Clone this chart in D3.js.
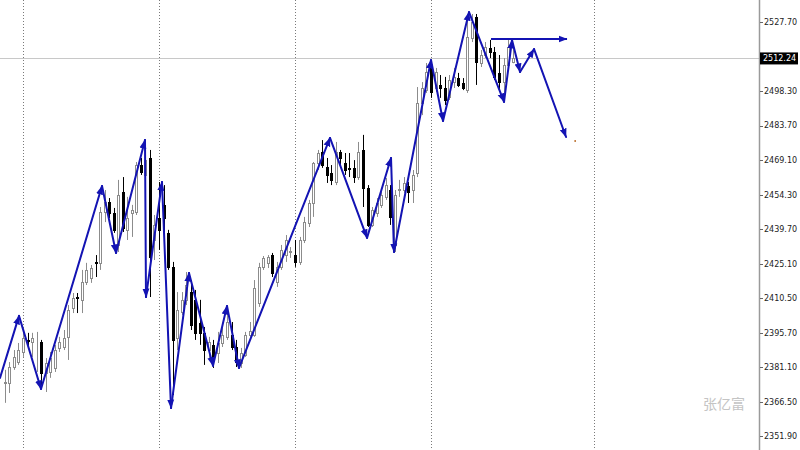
<!DOCTYPE html>
<html><head><meta charset="utf-8">
<script src="https://cdn.jsdelivr.net/npm/d3@7/dist/d3.min.js"></script>
<style>html,body{margin:0;padding:0;background:#fff;}svg{display:block;}</style>
</head><body>
<svg id="c" width="800" height="450"></svg>
<script>
// ---- data (prices) ----
const opens = [2374.5,2374.5,2381.3,2383.4,2387.7,2392.8,2391.9,2392.8,2391.9,2378.8,
2379.2,2380.9,2389.4,2389.8,2394.1,2406.4,2410.8,2409.8,2417.4,2419.1,
2425.9,2425.5,2447.1,2451.3,2446.7,2433.1,2455.6,2439.5,2446.7,2447.1,
2467.0,2462.8,2470.0,2435.2,2444.5,2450.1,2438.2,2423.8,2393.6,2404.7,
2409.8,2413.1,2409.8,2400.0,2395.8,2388.5,2390.7,2387.3,2391.5,2394.1,
2394.9,2389.8,2383.0,2386.4,2394.9,2394.9,2408.5,2423.8,2425.5,2428.8,
2417.4,2423.8,2428.8,2430.1,2428.8,2425.9,2435.2,2442.4,2450.9,2467.9,
2472.5,2466.2,2463.6,2459.8,2472.5,2467.9,2465.8,2465.8,2461.9,2473.4,
2457.3,2441.6,2446.7,2450.1,2453.5,2456.4,2433.1,2456.4,2456.4,2458.1,
2456.4,2463.6,2493.3,2498.8,2508.6,2499.7,2501.0,2499.7,2495.9,2502.2,
2503.9,2501.8,2498.8,2520.9,2529.8,2510.3,2513.7,2516.7,2515.0,2506.1,
2502.2,2509.5,2510.9];
const highs = [2380.1,2383.4,2388.5,2391.5,2397.0,2395.8,2395.8,2396.2,2392.8,2385.1,
2387.7,2390.7,2394.1,2397.0,2407.6,2412.7,2412.7,2422.5,2425.5,2424.6,
2428.8,2449.2,2456.4,2453.0,2448.8,2460.7,2461.9,2453.5,2450.1,2468.3,
2470.0,2475.5,2473.4,2445.8,2459.8,2458.5,2439.5,2425.9,2413.1,2413.1,
2421.6,2418.2,2414.0,2409.8,2398.3,2394.1,2392.8,2396.2,2398.3,2407.6,
2400.4,2392.8,2389.4,2396.2,2400.4,2418.2,2425.5,2428.4,2428.8,2429.7,
2425.9,2433.1,2437.3,2432.2,2435.2,2436.5,2445.0,2452.2,2468.3,2473.4,
2477.6,2470.0,2467.0,2476.8,2473.4,2472.1,2472.1,2469.1,2476.8,2479.8,
2458.5,2449.2,2453.0,2455.6,2461.5,2458.5,2456.4,2460.7,2461.9,2459.8,
2464.9,2500.1,2502.2,2510.3,2511.6,2508.2,2505.2,2504.4,2505.2,2508.2,
2506.1,2503.9,2529.4,2531.1,2531.1,2515.8,2519.2,2520.1,2517.1,2513.7,
2512.4,2520.9,2517.9];
const lows = [2366.1,2370.3,2380.1,2382.2,2385.6,2389.4,2385.6,2379.2,2373.7,2370.7,
2376.7,2379.2,2387.7,2388.5,2384.3,2404.2,2404.2,2404.2,2416.1,2417.0,
2419.5,2422.5,2442.8,2444.5,2438.2,2430.1,2438.6,2435.2,2436.5,2445.8,
2462.8,2460.7,2411.0,2426.7,2431.0,2435.2,2422.5,2369.4,2388.5,2403.4,
2407.6,2397.0,2392.8,2390.7,2382.2,2384.3,2380.9,2383.0,2389.8,2392.8,
2388.5,2381.3,2380.9,2385.6,2394.1,2394.1,2406.8,2422.5,2423.3,2419.5,
2415.3,2422.5,2425.9,2427.6,2423.8,2424.6,2433.9,2440.7,2445.0,2464.9,
2465.8,2459.4,2458.5,2458.5,2466.2,2462.8,2461.9,2459.4,2460.7,2449.2,
2440.7,2440.7,2445.0,2448.8,2452.2,2441.6,2430.1,2453.5,2455.2,2450.9,
2450.9,2461.9,2488.2,2497.6,2495.5,2498.0,2495.5,2492.5,2494.6,2499.7,
2500.1,2498.8,2497.6,2519.2,2501.0,2508.6,2512.4,2512.4,2503.1,2498.8,
2496.7,2508.2,2510.2];
const closes = [2375.0,2381.3,2385.6,2388.5,2393.6,2392.4,2393.6,2392.9,2378.8,2383.0,
2385.1,2388.5,2391.9,2393.6,2405.5,2410.6,2410.4,2417.4,2422.5,2423.3,
2425.5,2447.1,2451.3,2446.7,2439.5,2454.3,2440.3,2444.5,2447.9,2467.0,
2464.1,2469.1,2428.0,2441.6,2439.5,2444.5,2423.8,2392.8,2405.5,2409.8,
2416.1,2399.1,2395.8,2395.8,2388.5,2391.9,2384.3,2391.5,2394.9,2400.4,
2389.8,2383.4,2387.3,2394.9,2396.6,2414.8,2423.8,2427.6,2428.0,2421.2,
2423.8,2431.0,2435.2,2430.5,2425.9,2435.2,2442.8,2450.9,2467.9,2472.1,
2467.0,2462.8,2460.7,2472.5,2470.0,2464.9,2465.3,2461.9,2472.5,2457.3,
2441.6,2447.9,2450.9,2454.3,2458.5,2445.0,2454.3,2456.8,2459.4,2455.6,
2462.8,2493.3,2499.7,2506.5,2498.0,2506.5,2499.7,2494.6,2503.1,2504.4,
2501.0,2499.7,2521.3,2527.7,2510.7,2513.7,2517.1,2515.0,2504.4,2502.2,
2509.5,2517.1,2512.24];

// zigzag arrows: bar index position and price of each turning point
const zigIdx   = [-1.07,3.12,7.97,21.43,24.52,30.91,31.13,34.66,36.65,40.62,45.91,49.0,51.65,71.72,79.89,85.18,85.84,94.0,96.65,102.39,110.11,111.87,113.64,116.73,123.79];
const zigPrice = [2376.7,2403.0,2372.0,2458.1,2429.7,2477.6,2411.0,2459.8,2363.9,2421.2,2381.8,2407.2,2380.9,2478.5,2436.1,2470.0,2430.1,2511.6,2485.7,2531.9,2493.8,2520.1,2506.5,2516.2,2478.9];
// horizontal arrow
const hIdx = [107.24, 124.0];
const hPrice = [2520.5, 2520.5];
// small dot
const dotIdx = 125.8, dotPrice = 2477.2;

const gridIdx = [4, 34, 64, 94, 130];
const tickLabels = ["2527.70","2498.30","2483.70","2469.10","2454.30","2439.70","2425.10","2410.50","2395.70","2381.10","2366.50","2351.90"];
const currentPrice = 2512.24;
const watermark = "张亿富";

// ---- scales ----
const W = 800, H = 450, axisX = 759.5;
const x = d3.scaleLinear().domain([0, 130]).range([4.87, 594.2]);
const y = d3.scaleLinear().domain([2351.9, 2527.7]).range([436.3, 22]);
const svg = d3.select("#c");

// defs
svg.append("defs").append("marker")
  .attr("id","ah").attr("markerUnits","userSpaceOnUse")
  .attr("markerWidth",10).attr("markerHeight",8)
  .attr("refX",8.5).attr("refY",4).attr("orient","auto")
  .append("path").attr("d","M0,0.5 L9,4 L0,7.5 Z").attr("fill","#1313b3");

// grid
svg.append("g").selectAll("line").data(gridIdx).join("line")
  .attr("x1", d => Math.round(x(d)) + 0.5).attr("x2", d => Math.round(x(d)) + 0.5)
  .attr("y1", 0).attr("y2", H)
  .attr("stroke", "#7a7a7a").attr("stroke-dasharray", "1,2");

// current price line
svg.append("line").attr("x1",0).attr("x2",axisX).attr("y1",Math.round(y(currentPrice))+0.5).attr("y2",Math.round(y(currentPrice))+0.5)
  .attr("stroke","#c8c8c8");

// candles
const bars = d3.range(opens.length).map(i => ({i, o:opens[i], h:highs[i], l:lows[i], c:closes[i]}));
const cg = svg.append("g");
bars.forEach(b => {
  const r = Math.round(x(b.i));
  const up = b.c >= b.o;
  const col = up ? "#8c8c8c" : "#000";
  cg.append("line").attr("x1", r+0.5).attr("x2", r+0.5)
    .attr("y1", y(b.h)).attr("y2", y(b.l)).attr("stroke", col).attr("stroke-width",1);
  const top = Math.round(y(Math.max(b.o,b.c))), bot = Math.round(y(Math.min(b.o,b.c)));
  cg.append("rect").attr("x", r-0.5).attr("y", top+0.5)
    .attr("width", 2).attr("height", Math.max(0, bot-top))
    .attr("fill", up ? "#fff" : "#000").attr("stroke", col);
});

// zigzag arrows
const ag = svg.append("g");
for (let k = 0; k < zigIdx.length-1; k++) {
  ag.append("line")
    .attr("x1", x(zigIdx[k])).attr("y1", y(zigPrice[k]))
    .attr("x2", x(zigIdx[k+1])).attr("y2", y(zigPrice[k+1]))
    .attr("stroke","#1313b3").attr("stroke-width",2).attr("stroke-linecap","round")
    .attr("marker-end","url(#ah)");
}
ag.append("line")
  .attr("x1", x(hIdx[0])).attr("y1", y(hPrice[0]))
  .attr("x2", x(hIdx[1])).attr("y2", y(hPrice[1]))
  .attr("stroke","#1313b3").attr("stroke-width",2)
  .attr("marker-end","url(#ah)");
svg.append("circle").attr("cx", x(dotIdx)).attr("cy", y(dotPrice)).attr("r",0.9).attr("fill","#b5651d");

// axis
svg.append("line").attr("x1",axisX).attr("x2",axisX).attr("y1",0).attr("y2",H).attr("stroke","#9a9a9a").attr("stroke-width",1.5);
const tg = svg.append("g");
tickLabels.forEach(t => {
  const ty = y(+t);
  tg.append("line").attr("x1",760).attr("x2",763).attr("y1",Math.round(ty)+0.5).attr("y2",Math.round(ty)+0.5).attr("stroke","#666");
  tg.append("text").attr("x",764).attr("y",ty).attr("dy","0.35em")
    .attr("font-family","DejaVu Sans, sans-serif").attr("font-size","8px").attr("fill","#222").text(t);
});
const cy = y(currentPrice);
svg.append("rect").attr("x",760).attr("y",cy-6).attr("width",38).attr("height",12).attr("fill","#000");
svg.append("text").attr("x",763).attr("y",cy).attr("dy","0.35em")
  .attr("font-family","DejaVu Sans, sans-serif").attr("font-size","8px").attr("fill","#fff").text(currentPrice.toFixed(2));

// watermark
svg.append("text").attr("x",724).attr("y",404).attr("dy","0.35em").attr("text-anchor","middle")
  .attr("font-family","Noto Sans CJK SC, sans-serif").attr("font-size","14px").attr("fill","#c4c4c4").text(watermark);
</script>
</body></html>
